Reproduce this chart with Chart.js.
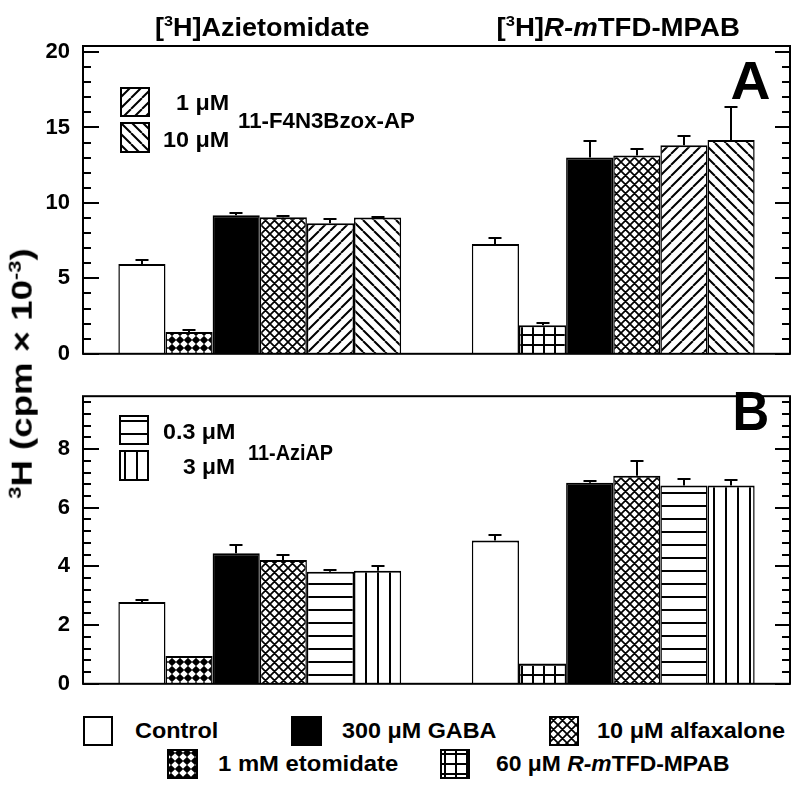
<!DOCTYPE html>
<html><head><meta charset="utf-8">
<script src="https://cdn.jsdelivr.net/npm/chart.js@4.4.1/dist/chart.umd.min.js"></script>
<style>
html,body{margin:0;padding:0;background:#fff;}
body{width:800px;height:791px;position:relative;overflow:hidden;font-family:"Liberation Sans",Arial,sans-serif;font-weight:bold;color:#000;}
canvas.chart{position:absolute;left:0;}
.t{position:absolute;white-space:nowrap;line-height:1;}
sup{font-size:0.6em;vertical-align:baseline;position:relative;top:-0.62em;}
</style></head><body>
<canvas id="cA" class="chart" width="800" height="380" style="top:0"></canvas>
<canvas id="cB" class="chart" width="800" height="340" style="top:370px"></canvas>

<div class="t" data-a="c" data-x="262" data-y="27" data-w="215" style="font-size:25px">[<sup>3</sup>H]Azietomidate</div>
<div class="t" data-a="c" data-x="618" data-y="27" data-w="243" style="font-size:25px">[<sup>3</sup>H]<i>R-m</i>TFD-MPAB</div>
<div class="t" data-a="c" data-x="750" data-y="80" data-w="40" style="font-size:54px">A</div>
<div class="t" data-a="c" data-x="751" data-y="411" data-w="37" style="font-size:55px">B</div>

<div class="t" data-a="r" data-x="229" data-y="103" data-w="53" style="font-size:22px">1 μM</div>
<div class="t" data-a="r" data-x="229" data-y="140" data-w="66" style="font-size:22px">10 μM</div>
<div class="t" data-a="l" data-x="238" data-y="121" data-w="177" style="font-size:22px">11-F4N3Bzox-AP</div>

<div class="t" data-a="r" data-x="235" data-y="432" data-w="72" style="font-size:22px">0.3 μM</div>
<div class="t" data-a="r" data-x="235" data-y="467" data-w="52" style="font-size:22px">3 μM</div>
<div class="t" data-a="l" data-x="248" data-y="453" data-w="85" style="font-size:22px">11-AziAP</div>

<div class="t" data-a="l" data-x="135" data-y="731" data-w="83" style="font-size:22px">Control</div>
<div class="t" data-a="l" data-x="342" data-y="731" data-w="155" style="font-size:22px">300 μM GABA</div>
<div class="t" data-a="l" data-x="597" data-y="731" data-w="188" style="font-size:22px">10 μM alfaxalone</div>
<div class="t" data-a="l" data-x="218" data-y="764" data-w="180" style="font-size:22px">1 mM etomidate</div>
<div class="t" data-a="l" data-x="496" data-y="764" data-w="234" style="font-size:22px">60 μM <i>R-m</i>TFD-MPAB</div>

<div class="t" id="ytitle" style="font-size:29px"><sup>3</sup>H (cpm × 10<sup>-3</sup>)</div>

<script>
// ---------------- data ----------------
const categories = ['[3H]Azietomidate', '[3H]R-mTFD-MPAB'];
const seriesNames = ['Control', 'Blocker (1 mM etomidate / 60 μM R-mTFD-MPAB)', '300 μM GABA', '10 μM alfaxalone', 'Low conc.', 'High conc.'];

// Panel A (cpm x 10^-3)
const controlA = [5.95, 7.27];   const controlAErr = [0.24, 0.39];
const blockerA = [1.44, 1.89];   const blockerAErr = [0.13, 0.13];
const gabaA    = [9.18, 13.01];  const gabaAErr    = [0.15, 1.12];
const alfaxA   = [9.05, 13.14];  const alfaxAErr   = [0.07, 0.45];
const lowA     = [8.66, 13.83];  const lowAErr     = [0.30, 0.60];  // 1 µM 11-F4N3Bzox-AP
const highA    = [9.03, 14.17];  const highAErr    = [0.05, 2.20];  // 10 µM 11-F4N3Bzox-AP

// Panel B
const controlB = [2.79, 4.88];   const controlBErr = [0.08, 0.19];
const blockerB = [0.95, 0.69];   const blockerBErr = [0, 0];
const gabaB    = [4.45, 6.85];   const gabaBErr    = [0.29, 0.06];
const alfaxB   = [4.22, 7.09];   const alfaxBErr   = [0.17, 0.50];
const lowB     = [3.82, 6.76];   const lowBErr     = [0.07, 0.22];  // 0.3 µM 11-AziAP
const highB    = [3.85, 6.76];   const highBErr    = [0.16, 0.17];  // 3 µM 11-AziAP

const yTickLabelsA = [0, 5, 10, 15, 20];
const yTickLabelsB = [0, 2, 4, 6, 8];

// ---------------- patterns ----------------
function tile(w, h, draw) {
  const c = document.createElement('canvas'); c.width = w; c.height = h;
  const g = c.getContext('2d');
  g.fillStyle = '#fff'; g.fillRect(0, 0, w, h);
  g.strokeStyle = '#000'; g.fillStyle = '#000'; g.lineWidth = 2;
  draw(g, w, h);
  return g.createPattern(c, 'repeat');
}
const P = {
  diamonds: tile(8, 8, g => { g.beginPath(); g.moveTo(4, -0.2); g.lineTo(8.2, 4); g.lineTo(4, 8.2); g.lineTo(-0.2, 4); g.closePath(); g.fill(); }),
  cross: tile(9, 9, g => { g.lineWidth = 1.7; g.beginPath(); for (const k of [-1, 0, 1]) { g.moveTo(k*9, 9); g.lineTo(k*9+9, 0); g.moveTo(k*9, 0); g.lineTo(k*9+9, 9); } g.stroke(); }),
  fwd: tile(11, 11, g => { g.beginPath(); for (const k of [-1, 0, 1]) { g.moveTo(k*11, 11); g.lineTo(k*11+11, 0); } g.stroke(); }),
  back: tile(11, 11, g => { g.beginPath(); for (const k of [-1, 0, 1]) { g.moveTo(k*11, 0); g.lineTo(k*11+11, 11); } g.stroke(); }),
  grid: tile(11, 10, g => { g.beginPath(); g.moveTo(5, 0); g.lineTo(5, 10); g.moveTo(0, 5); g.lineTo(11, 5); g.stroke(); }),
  hlines: tile(13, 13, g => { g.beginPath(); g.moveTo(0, 6); g.lineTo(13, 6); g.stroke(); }),
  vlines: tile(12, 12, g => { g.beginPath(); g.moveTo(6, 0); g.lineTo(6, 12); g.stroke(); })
};

const FONT = '"Liberation Sans", Arial, sans-serif';

function ds(label, data, err, bg) {
  return { label, data, err, backgroundColor: bg, borderColor: '#000',
    borderWidth: { top: 2, left: 1.5, right: 1.5, bottom: 0 },
    categoryPercentage: 0.8, barPercentage: 1.0 };
}

const framePlugin = {
  id: 'frame',
  afterDatasetsDraw(chart) {
    const ctx = chart.ctx, y = chart.scales.y, a = chart.chartArea;
    ctx.save();
    ctx.strokeStyle = '#000'; ctx.lineWidth = 2; ctx.lineCap = 'butt';
    chart.data.datasets.forEach((d, i) => {
      const meta = chart.getDatasetMeta(i);
      meta.data.forEach((bar, j) => {
        const e = d.err[j]; if (!e) return;
        const y0 = y.getPixelForValue(d.data[j]);
        const y1 = Math.round(y.getPixelForValue(d.data[j] + e));
        const x = Math.round(bar.x);
        ctx.beginPath();
        ctx.moveTo(x, y0); ctx.lineTo(x, y1);
        ctx.moveTo(x - 6.5, y1); ctx.lineTo(x + 6.5, y1);
        ctx.stroke();
      });
    });
    y.ticks.forEach(t => {
      const p = Math.round(y.getPixelForValue(t.value));
      const major = !!t.label;
      ctx.beginPath();
      ctx.moveTo(a.left, p); ctx.lineTo(a.left + (major ? 16 : 8), p);
      ctx.moveTo(a.right, p); ctx.lineTo(a.right - (major ? 15 : 8), p);
      ctx.stroke();
    });
    ctx.strokeRect(a.left, a.top, a.right - a.left, a.bottom - a.top);
    ctx.restore();
  }
};

function makeChart(id, datasets, max, step, labels, pad) {
  return new Chart(document.getElementById(id), {
    type: 'bar',
    data: { labels: categories, datasets },
    options: {
      responsive: false, animation: false,
      layout: { padding: pad },
      plugins: { legend: { display: false }, tooltip: { enabled: false } },
      scales: {
        x: { display: false },
        y: {
          min: 0, max: max,
          afterBuildTicks: s => {
            const t = [];
            for (let k = 0; k * step <= max + 1e-9; k++) t.push({ value: Math.round(k * step * 1000) / 1000 });
            s.ticks = t;
          },
          ticks: { stepSize: step, autoSkip: false, padding: 13, color: '#000',
            font: { family: FONT, size: 22, weight: 'bold' },
            callback: v => labels.some(l => Math.abs(l - v) < 1e-6) ? String(Math.round(v)) : '' },
          grid: { display: false, drawTicks: false },
          border: { display: false },
          afterFit: s => { s.width = 83; }
        }
      }
    },
    plugins: [framePlugin]
  });
}

makeChart('cA', [
  ds(seriesNames[0], controlA, controlAErr, '#fff'),
  ds(seriesNames[1], blockerA, blockerAErr, [P.diamonds, P.grid]),
  ds(seriesNames[2], gabaA, gabaAErr, '#000'),
  ds(seriesNames[3], alfaxA, alfaxAErr, P.cross),
  ds(seriesNames[4], lowA, lowAErr, P.fwd),
  ds(seriesNames[5], highA, highAErr, P.back)
], 20.4, 1, yTickLabelsA, { left: 0, right: 10, top: 46, bottom: 17 });

makeChart('cB', [
  ds(seriesNames[0], controlB, controlBErr, '#fff'),
  ds(seriesNames[1], blockerB, blockerBErr, [P.diamonds, P.grid]),
  ds(seriesNames[2], gabaB, gabaBErr, '#000'),
  ds(seriesNames[3], alfaxB, alfaxBErr, P.cross),
  ds(seriesNames[4], lowB, lowBErr, P.hlines),
  ds(seriesNames[5], highB, highBErr, P.vlines)
], 9.8, 0.4, yTickLabelsB, { left: 0, right: 10, top: 7, bottom: 17 });

// ---------------- swatches ----------------
function swatch(x, y, w, h, fill) {
  const c = document.createElement('canvas'); c.width = w; c.height = h;
  c.style.cssText = `position:absolute;left:${x}px;top:${y}px`;
  const g = c.getContext('2d');
  g.fillStyle = fill; g.fillRect(0, 0, w, h);
  g.strokeStyle = '#000'; g.lineWidth = 2; g.strokeRect(1, 1, w - 2, h - 2);
  document.body.appendChild(c);
}
swatch(120, 87, 30, 30, P.fwd);
swatch(120, 122, 30, 31, P.back);
swatch(119, 415, 30, 30, P.hlines);
swatch(119, 450, 30, 31, P.vlines);
swatch(83, 716, 30, 30, '#fff');
swatch(291, 716, 31, 30, '#000');
swatch(549, 716, 30, 30, P.cross);
swatch(167, 749, 31, 30, P.diamonds);
swatch(440, 749, 30, 30, P.grid);

// ---------------- text placement ----------------
document.querySelectorAll('.t[data-a]').forEach(el => {
  const ax = el.dataset.a, x = +el.dataset.x, y = +el.dataset.y, w = +el.dataset.w;
  const nat = el.offsetWidth, h = el.offsetHeight;
  const s = w ? w / nat : 1;
  el.style.left = (ax === 'l' ? x : ax === 'r' ? x - nat : x - nat / 2) + 'px';
  el.style.top = (y - h / 2) + 'px';
  el.style.transformOrigin = ax === 'l' ? 'left center' : ax === 'r' ? 'right center' : 'center center';
  el.style.transform = `scaleX(${s})`;
});
const yt = document.getElementById('ytitle');
{
  const nat = yt.offsetWidth, h = yt.offsetHeight;
  yt.style.left = (22 - nat / 2) + 'px';
  yt.style.top = (373 - h / 2) + 'px';
  yt.style.transformOrigin = 'center center';
  yt.style.transform = `rotate(-90deg) scaleX(${250 / nat})`;
}
</script>
</body></html>
